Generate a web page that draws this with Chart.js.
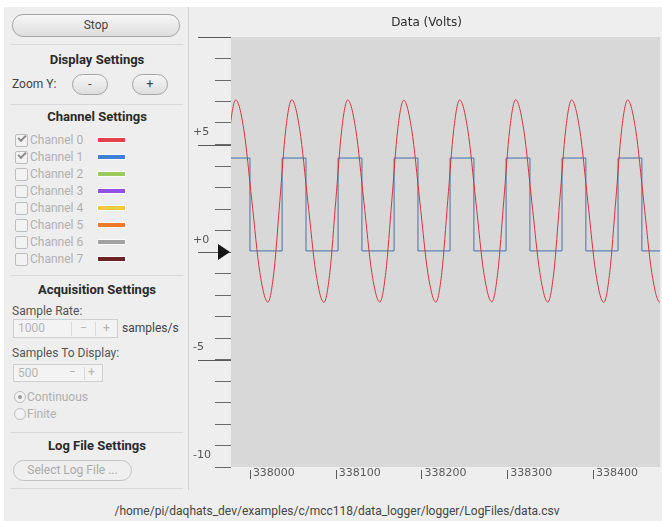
<!DOCTYPE html>
<html>
<head>
<meta charset="utf-8">
<script src="https://cdn.jsdelivr.net/npm/chart.js@4.4.1/dist/chart.umd.min.js"></script>
<style>
  html, body { margin: 0; padding: 0; background: #fff; }
  body { width: 662px; height: 521px; position: relative; overflow: hidden;
         font-family: Roboto, "Noto Sans", sans-serif; font-size: 12px; color: #555; }
  .a { position: absolute; white-space: nowrap; }
  #win { left: 4px; top: 7px; width: 658px; height: 514px; background: #eeeeee; }
  .sep { left: 10px; width: 173px; height: 1px; background: #dadada; }
  .hdr { left: 8px; width: 178px; text-align: center; font-weight: bold; font-size: 13px;
         line-height: 16px; color: #2a2a2a; }
  .txt { line-height: 14px; }
  .pill { border: 1px solid #a4a4a4; border-radius: 11px; box-sizing: border-box;
          background: linear-gradient(#f6f6f6, #dedede); text-align: center; color: #444; }
  .pill.off { background: #efefef; border-color: #c4c4c4; color: #aaa; }
  .chk { width: 11px; height: 11px; border: 1px solid #bdbdbd; border-radius: 2px; background: #f2f2f2; }
  .tick { left: 2px; top: 0px; width: 6px; height: 3px; border-left: 2px solid #8a8a8a;
          border-bottom: 2px solid #8a8a8a; transform: rotate(-45deg); }
  .off-t { color: #b0b0b0; }
  .sw { width: 27px; height: 4px; box-shadow: 0 0 0 1px rgba(255,255,255,0.7); }
  .spin { border: 1px solid #cfcfcf; background: #f3f3f3; box-sizing: border-box; color: #b4b4b4; }
  .radio { width: 10px; height: 10px; border: 1px solid #bdbdbd; border-radius: 50%; background: #f3f3f3; }
  #chart { position: absolute; left: 190px; top: 0px; }
</style>
</head>
<body>
<div class="a" id="win"></div>
<div class="a" style="left:188px;top:7px;width:1px;height:483px;background:#d2d2d2"></div>

<div class="a pill" style="left:12px;top:14px;width:168px;height:23px;line-height:21px;">Stop</div>
<div class="a sep" style="top:44px"></div>
<div class="a hdr" style="top:52px">Display Settings</div>
<div class="a txt" style="left:12px;top:77px;color:#444">Zoom Y:</div>
<div class="a pill" style="left:72px;top:74px;width:36px;height:21px;line-height:19px;">-</div>
<div class="a pill" style="left:132px;top:74px;width:36px;height:21px;line-height:19px;">+</div>
<div class="a sep" style="top:104px"></div>
<div class="a hdr" style="top:109px">Channel Settings</div>
<div id="channels"></div>
<div class="a sep" style="top:275px"></div>
<div class="a hdr" style="top:282px">Acquisition Settings</div>
<div class="a txt" style="left:12px;top:304px">Sample Rate:</div>
<div class="a spin" style="left:13px;top:319px;width:105px;height:19px;">
  <span class="a" style="left:4px;top:1px">1000</span>
  <span class="a" style="left:57px;top:2px;width:1px;height:14px;background:#dadada"></span>
  <span class="a" style="left:66px;top:1px">&minus;</span>
  <span class="a" style="left:81px;top:2px;width:1px;height:14px;background:#dadada"></span>
  <span class="a" style="left:89px;top:1px">+</span>
</div>
<div class="a txt" style="left:122px;top:321px;color:#444">samples/s</div>
<div class="a txt" style="left:12px;top:346px">Samples To Display:</div>
<div class="a spin" style="left:13px;top:364px;width:90px;height:18px;">
  <span class="a" style="left:4px;top:1px">500</span>
  <span class="a" style="left:55px;top:0px">&minus;</span>
  <span class="a" style="left:70px;top:2px;width:1px;height:13px;background:#dadada"></span>
  <span class="a" style="left:74px;top:0px">+</span>
</div>
<div class="a radio" style="left:14px;top:391px;"><span class="a" style="left:3px;top:3px;width:4px;height:4px;border-radius:50%;background:#9a9a9a"></span></div>
<div class="a txt off-t" style="left:27px;top:390px">Continuous</div>
<div class="a radio" style="left:14px;top:408px;"></div>
<div class="a txt off-t" style="left:27px;top:407px">Finite</div>
<div class="a sep" style="top:432px"></div>
<div class="a hdr" style="top:438px">Log File Settings</div>
<div class="a pill off" style="left:13px;top:460px;width:119px;height:21px;line-height:19px;">Select Log File ...</div>
<div class="a sep" style="top:488px"></div>
<div class="a txt" style="left:6px;width:662px;text-align:center;top:504px;color:#444">/home/pi/daqhats_dev/examples/c/mcc118/data_logger/logger/LogFiles/data.csv</div>

<canvas id="chart" width="472" height="490"></canvas>

<script>
// channel list in the settings panel
const channelNames = ['Channel 0', 'Channel 1', 'Channel 2', 'Channel 3',
                      'Channel 4', 'Channel 5', 'Channel 6', 'Channel 7'];
const channelColors = ['#e2404a', '#3d80d6', '#9ccb5c', '#9150e6',
                       '#f0ca3a', '#f07a2a', '#a2a2a2', '#6a2222'];
const channelOn = [true, true, false, false, false, false, false, false];

// visible window: 500 samples
const xMin = 337978;
const xMax = 338478;
const xTickValues = [338000, 338100, 338200, 338300, 338400];

// channel 0: sine (sample number, volts)
const sineSamples = [
  337955.8, 337962.7, 337969.6, 337976.6,
  337983.5, 337992.9, 338002.3, 338011.6, 338021.0, 338027.9, 338034.9, 338041.8,
  338048.8, 338058.1, 338067.5, 338076.9, 338086.3, 338093.2, 338100.1, 338107.1,
  338114.0, 338123.4, 338132.8, 338142.1, 338151.5, 338158.4, 338165.4, 338172.3,
  338179.3, 338188.6, 338198.0, 338207.4, 338216.8, 338223.7, 338230.6, 338237.6,
  338244.5, 338253.9, 338263.3, 338272.6, 338282.0, 338288.9, 338295.9, 338302.8,
  338309.8, 338319.1, 338328.5, 338337.9, 338347.3, 338354.2, 338361.1, 338368.1,
  338375.0, 338384.4, 338393.8, 338403.1, 338412.5, 338419.4, 338426.4, 338433.3,
  338440.3, 338449.6, 338459.0, 338468.4, 338477.8, 338484.7, 338491.6
];
const sineVolts = [
  -2.33, -0.96, 2.37, 5.70,
  7.07, 5.71, 2.38, -0.95, -2.33, -0.97, 2.36, 5.70,
  7.08, 5.70, 2.37, -0.96, -2.34, -0.96, 2.37, 5.71,
  7.07, 5.70, 2.36, -0.96, -2.33, -0.95, 2.37, 5.70,
  7.06, 5.69, 2.37, -0.97, -2.33, -0.96, 2.38, 5.70,
  7.07, 5.70, 2.37, -0.96, -2.32, -0.96, 2.37, 5.69,
  7.08, 5.71, 2.37, -0.95, -2.33, -0.97, 2.36, 5.70,
  7.07, 5.70, 2.38, -0.96, -2.34, -0.96, 2.37, 5.70,
  7.07, 5.70, 2.37, -0.96, -2.33, -0.96, 2.37
];

// channel 1: square wave, level changes (sample number, new level in volts)
const squareSamples = [
  337972.3, 338000.1, 338037.6, 338065.4, 338102.8, 338130.6, 338168.1, 338195.9,
  338233.3, 338261.1, 338298.6, 338326.4, 338363.8, 338391.6, 338429.1, 338456.9, 338494.3
];
const squareVolts = [
  4.37, 0.05, 4.37, 0.05, 4.37, 0.05, 4.37, 0.05,
  4.37, 0.05, 4.37, 0.05, 4.37, 0.05, 4.37, 0.05, 4.37
];

// y ruler
const yMajorLines = [10, 5, 0, -5];
const yLabelValues = [5, 0, -5, -10];
const yLabelText = ['+5', '+0', '-5', '-10'];

// build the channel rows
const holder = document.getElementById('channels');
channelNames.forEach((name, i) => {
  const c = 140 + 17 * i;
  holder.insertAdjacentHTML('beforeend',
    '<div class="a chk" style="left:15px;top:' + (c - 6) + 'px">' +
      (channelOn[i] ? '<span class="a tick"></span>' : '') + '</div>' +
    '<div class="a txt off-t" style="left:30px;top:' + (c - 7) + 'px">' + name + '</div>' +
    '<div class="a sw" style="left:98px;top:' + (c - 2) + 'px;background:' + channelColors[i] + '"></div>');
});

const rulerPlugin = {
  id: 'ruler',
  beforeDatasetsDraw(chart) {
    const a = chart.chartArea;
    const ctx = chart.ctx;
    ctx.save();
    ctx.fillStyle = '#d8d8d8';
    ctx.fillRect(a.left, a.top, a.right - a.left, a.bottom - a.top);
    ctx.restore();
  },
  afterDraw(chart) {
    const ctx = chart.ctx;
    const a = chart.chartArea;
    const ys = chart.scales.y;
    const xs = chart.scales.x;
    ctx.save();
    ctx.strokeStyle = '#5a5a5a';
    ctx.lineWidth = 1;
    yMajorLines.forEach((v) => {
      const p = Math.round(ys.getPixelForValue(v)) + 0.5;
      ctx.beginPath();
      ctx.moveTo(a.left - 33, p);
      ctx.lineTo(a.left, p);
      ctx.stroke();
    });
    xs.ticks.forEach((t) => {
      const p = Math.round(xs.getPixelForValue(t.value)) + 0.5;
      ctx.beginPath();
      ctx.moveTo(p, a.bottom + 3);
      ctx.lineTo(p, a.bottom + 12);
      ctx.stroke();
    });
    // zero marker
    const z = ys.getPixelForValue(0);
    ctx.fillStyle = '#151515';
    ctx.beginPath();
    ctx.moveTo(a.left - 13, z - 8);
    ctx.lineTo(a.left - 1, z);
    ctx.lineTo(a.left - 13, z + 8);
    ctx.closePath();
    ctx.fill();
    ctx.restore();
  }
};

const tickFont = { family: 'DejaVu Sans', size: 11 };

new Chart(document.getElementById('chart'), {
  type: 'line',
  data: {
    datasets: [
      {
        label: channelNames[0],
        data: sineSamples.map((s, i) => ({ x: s, y: sineVolts[i] })),
        borderColor: '#d8343c',
        borderWidth: 1,
        pointRadius: 0,
        cubicInterpolationMode: 'monotone'
      },
      {
        label: channelNames[1],
        data: squareSamples.map((s, i) => ({ x: s, y: squareVolts[i] })),
        borderColor: '#4571a8',
        borderWidth: 1,
        pointRadius: 0,
        stepped: true
      }
    ]
  },
  options: {
    responsive: false,
    animation: false,
    events: [],
    layout: { padding: { left: 3, right: 2, top: 0, bottom: 0 } },
    plugins: {
      legend: { display: false },
      tooltip: { enabled: false },
      title: {
        display: true,
        text: 'Data (Volts)',
        color: '#2e2e2e',
        font: { family: 'DejaVu Sans', size: 12, weight: 'normal' },
        padding: { top: 16, bottom: 6.6 }
      }
    },
    scales: {
      x: {
        type: 'linear',
        min: xMin,
        max: xMax,
        border: { display: false },
        grid: { display: false, drawTicks: false },
        afterBuildTicks: (s) => { s.ticks = xTickValues.map((v) => ({ value: v })); },
        ticks: {
          autoSkip: false,
          maxRotation: 0,
          align: 'start',
          labelOffset: 3,
          padding: 0,
          color: '#5a5a5a',
          font: tickFont,
          callback: (v) => String(v)
        },
        afterFit: (s) => { s.height = 23; }
      },
      y: {
        min: -10,
        max: 10,
        border: { display: false },
        grid: { drawOnChartArea: false, drawTicks: true, tickLength: 16, tickColor: '#6a6a6a', lineWidth: 1 },
        ticks: {
          stepSize: 1,
          autoSkip: false,
          crossAlign: 'far',
          labelOffset: -12,
          padding: 0,
          color: '#555',
          font: tickFont,
          callback: (v) => {
            const k = yLabelValues.indexOf(v);
            return k < 0 ? '' : yLabelText[k];
          }
        },
        afterFit: (s) => { s.width = 38; }
      }
    }
  },
  plugins: [rulerPlugin]
});
</script>
</body>
</html>
